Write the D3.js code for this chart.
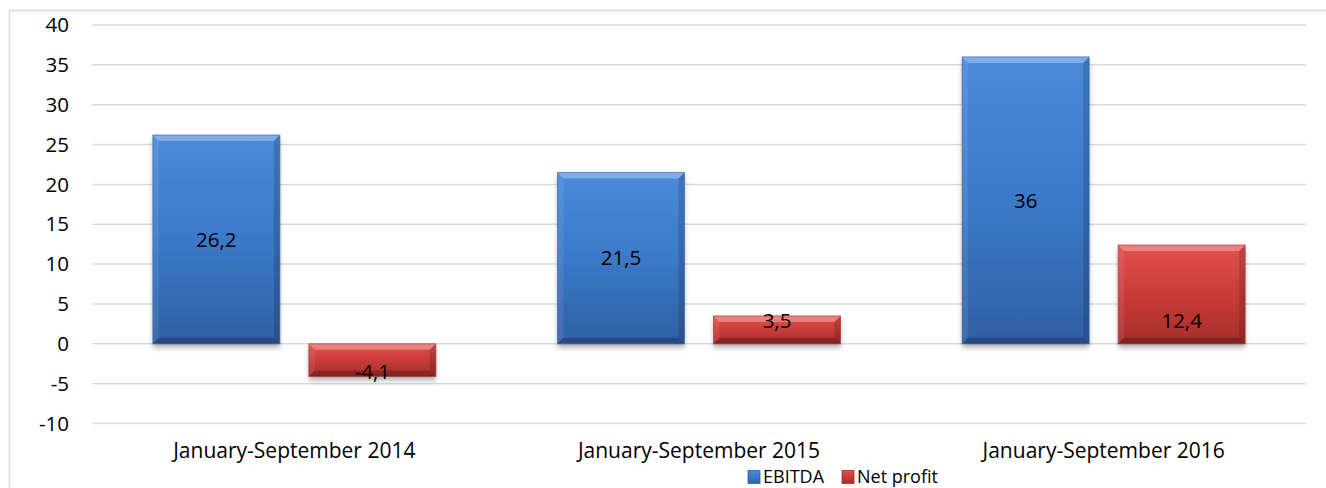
<!DOCTYPE html>
<html>
<head>
<meta charset="utf-8">
<title>EBITDA and net profit</title>
<script src="https://d3js.org/d3.v7.min.js"></script>
<style>
  body { margin: 0; background: #fff; }
  text { font-family: "Open Sans", "Liberation Sans", sans-serif; fill: #000; }
</style>
</head>
<body>
<svg id="chart" width="1326" height="488"></svg>
<script>
const categories = ["January-September 2014", "January-September 2015", "January-September 2016"];
const series = ["EBITDA", "Net profit"];
const ebitda = [26.2, 21.5, 36];
const netProfit = [-4.1, 3.5, 12.4];
const yTicks = [-10, -5, 0, 5, 10, 15, 20, 25, 30, 35, 40];

const colors = {
  "EBITDA": ["#4a8ada", "#3b79c8", "#2f60a3"],
  "Net profit": ["#e3504c", "#c93c39", "#a52d2b"]
};

const svg = d3.select("#chart");
const W = 1326, H = 488;
const plotLeft = 92, plotRight = 1306, plotTop = 25, plotBottom = 423.5;

// outer chart border (runs off the right/bottom edge)
svg.append("rect").attr("x", 9.5).attr("y", 10.5).attr("width", W + 20).attr("height", H + 20)
  .attr("fill", "none").attr("stroke", "#d9d9d9").attr("stroke-width", 1.5);

const defs = svg.append("defs");
const shadow = defs.append("filter").attr("id", "shadow").attr("x", "-10%").attr("y", "-10%").attr("width", "120%").attr("height", "140%");
shadow.append("feDropShadow").attr("dx", 0).attr("dy", 4).attr("stdDeviation", 2.5)
  .attr("flood-color", "#000").attr("flood-opacity", 0.3);

series.forEach((s, i) => {
  const g = defs.append("linearGradient").attr("id", "grad" + i).attr("x1", 0).attr("y1", 0).attr("x2", 0).attr("y2", 1);
  g.append("stop").attr("offset", "0%").attr("stop-color", colors[s][0]);
  g.append("stop").attr("offset", "50%").attr("stop-color", colors[s][1]);
  g.append("stop").attr("offset", "100%").attr("stop-color", colors[s][2]);
});

const y = d3.scaleLinear().domain([-10, 40]).range([plotBottom, plotTop]);
const x0 = d3.scaleBand().domain(categories).range([plotLeft, plotRight]);
const x1 = d3.scaleBand().domain(series).range([0, x0.bandwidth()]).paddingInner(0.186).paddingOuter(0.39);

// gridlines
svg.append("g").selectAll("line").data(yTicks).join("line")
  .attr("x1", plotLeft).attr("x2", plotRight)
  .attr("y1", d => y(d)).attr("y2", d => y(d))
  .attr("stroke", "#d9d9d9").attr("stroke-width", 1.5);

// y tick labels
svg.append("g").selectAll("text").data(yTicks).join("text")
  .attr("x", 69).attr("y", d => y(d)).attr("dy", "0.35em")
  .attr("text-anchor", "end").attr("font-size", 20.5)
  .text(d => d);

// category labels
svg.append("g").selectAll("text").data(categories).join("text")
  .attr("x", d => x0(d) + x0.bandwidth() / 2).attr("y", 451).attr("dy", "0.35em")
  .attr("text-anchor", "middle").attr("font-size", 21)
  .text(d => d);

const rows = [];
categories.forEach((c, i) => {
  rows.push({ cat: c, s: "EBITDA", si: 0, v: ebitda[i] });
  rows.push({ cat: c, s: "Net profit", si: 1, v: netProfit[i] });
});

const bev = 6;
const bars = svg.append("g").selectAll("g").data(rows).join("g")
  .attr("transform", d => `translate(${x0(d.cat) + x1(d.s)},${Math.min(y(d.v), y(0))})`);

bars.each(function (d) {
  const g = d3.select(this);
  const w = x1.bandwidth();
  const h = Math.abs(y(d.v) - y(0));
  g.append("rect").attr("width", w).attr("height", h)
    .attr("fill", `url(#grad${d.si})`).attr("filter", "url(#shadow)");
  // bevel facets
  g.append("polygon").attr("points", [[0, 0], [w, 0], [w - bev, bev], [bev, bev]].join(" "))
    .attr("fill", "#fff").attr("opacity", 0.3);
  g.append("polygon").attr("points", [[0, 0], [bev, bev], [bev, h - bev], [0, h]].join(" "))
    .attr("fill", "#fff").attr("opacity", 0.08);
  g.append("polygon").attr("points", [[w, 0], [w, h], [w - bev, h - bev], [w - bev, bev]].join(" "))
    .attr("fill", "#000").attr("opacity", 0.15);
  g.append("polygon").attr("points", [[0, h], [bev, h - bev], [w - bev, h - bev], [w, h]].join(" "))
    .attr("fill", "#000").attr("opacity", 0.22);
  g.append("rect").attr("width", w).attr("height", h)
    .attr("fill", "none").attr("stroke", colors[d.s][2]).attr("stroke-opacity", 0.6).attr("stroke-width", 1);
});

// data labels: centred, except short bars where the label sits near the base
svg.append("g").selectAll("text").data(rows).join("text")
  .attr("x", d => x0(d.cat) + x1(d.s) + x1.bandwidth() / 2)
  .attr("y", d => {
    const h = Math.abs(y(d.v) - y(0));
    if (h < 110) return d.v >= 0 ? y(0) - 23 : y(0) + 28;
    return (y(d.v) + y(0)) / 2;
  })
  .attr("dy", "0.35em").attr("text-anchor", "middle").attr("font-size", 20.5)
  .text(d => String(d.v).replace(".", ","));

// legend
const legend = svg.append("g").attr("transform", "translate(748,470.5)");
const lx = [0, 94];
series.forEach((s, i) => {
  const g = legend.append("g").attr("transform", `translate(${lx[i]},0)`);
  g.append("rect").attr("width", 12).attr("height", 13).attr("fill", `url(#grad${i})`)
    .attr("stroke", colors[s][2]).attr("stroke-width", 0.8);
  g.append("text").attr("x", 15).attr("y", 6.5).attr("dy", "0.35em").attr("font-size", 18).text(s);
});
</script>
</body>
</html>
